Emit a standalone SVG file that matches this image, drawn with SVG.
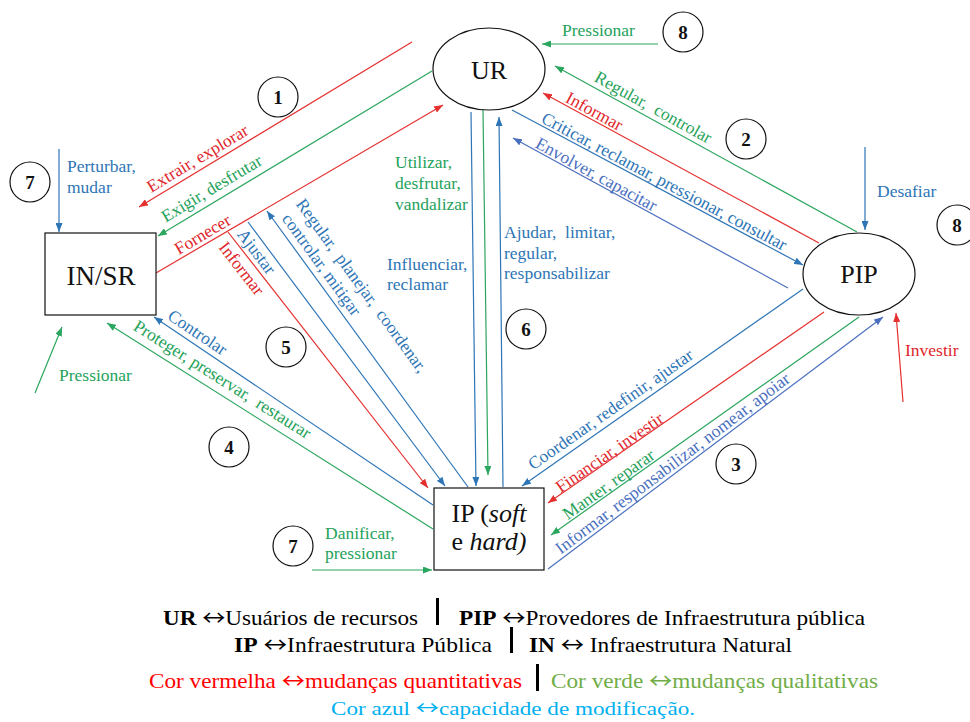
<svg xmlns="http://www.w3.org/2000/svg" width="970" height="722" viewBox="0 0 970 722" font-family="'Liberation Serif', 'DejaVu Serif', serif">
<style>
text{font-family:'Liberation Serif','DejaVu Serif',serif}
.lb{font-size:17.5px}
.r{fill:#E0262B}.g{fill:#25A25A}.b{fill:#2E75B6}.lb2{fill:#4A6FBF}
.node{fill:#fff;stroke:#111;stroke-width:1.2}
.nt{font-size:26px;fill:#111;text-anchor:middle}
.num{fill:#fff;stroke:#111;stroke-width:1.2}
.nn{font-size:19px;font-weight:bold;fill:#111;text-anchor:middle}
.cr{stroke:#E4302F;stroke-width:1.2;fill:none;marker-end:url(#mr)}
.cg{stroke:#2BA65E;stroke-width:1.2;fill:none;marker-end:url(#mg)}
.cb{stroke:#2E75B6;stroke-width:1.2;fill:none;marker-end:url(#mb)}
.cl{stroke:#4A6FBF;stroke-width:1.2;fill:none;marker-end:url(#ml)}
.leg{font-size:21px}
.ar{font-family:'Noto Sans CJK SC',sans-serif;font-weight:normal}
</style>
<defs>
<marker id="mr" markerUnits="userSpaceOnUse" markerWidth="9" markerHeight="7" refX="9" refY="3.5" orient="auto"><path d="M0,0 L9,3.5 L0,7 z" fill="#E4302F"/></marker>
<marker id="mg" markerUnits="userSpaceOnUse" markerWidth="9" markerHeight="7" refX="9" refY="3.5" orient="auto"><path d="M0,0 L9,3.5 L0,7 z" fill="#2BA65E"/></marker>
<marker id="mb" markerUnits="userSpaceOnUse" markerWidth="9" markerHeight="7" refX="9" refY="3.5" orient="auto"><path d="M0,0 L9,3.5 L0,7 z" fill="#2E75B6"/></marker>
<marker id="ml" markerUnits="userSpaceOnUse" markerWidth="9" markerHeight="7" refX="9" refY="3.5" orient="auto"><path d="M0,0 L9,3.5 L0,7 z" fill="#4A6FBF"/></marker>
</defs>
<rect width="970" height="722" fill="#fff"/>

<g id="connectors">
<line class="cr" x1="412" y1="42" x2="139" y2="207"/>
<line class="cg" x1="432" y1="71" x2="158" y2="236"/>
<line class="cr" x1="156" y1="273" x2="443" y2="105"/>
<line class="cb" x1="471" y1="112" x2="476" y2="486"/>
<line class="cg" x1="483" y1="110" x2="488" y2="475"/>
<line class="cb" x1="503" y1="487" x2="499" y2="117"/>
<line class="cg" x1="857" y1="232" x2="555" y2="66"/>
<line class="cr" x1="819" y1="243" x2="543" y2="93"/>
<line class="cb" x1="512" y1="110" x2="803" y2="265"/>
<line class="cl" x1="788" y1="288" x2="513" y2="138"/>
<line class="cg" x1="658" y1="44" x2="542" y2="44"/>
<line class="cb" x1="865" y1="147" x2="865" y2="230"/>
<line class="cr" x1="903" y1="402" x2="896" y2="313"/>
<line class="cb" x1="803" y1="289" x2="522" y2="486"/>
<line class="cr" x1="824" y1="312" x2="548" y2="503"/>
<line class="cg" x1="859" y1="317" x2="551" y2="535"/>
<line class="cl" x1="548" y1="569" x2="883" y2="317"/>
<line class="cb" x1="433" y1="505" x2="154" y2="317"/>
<line class="cg" x1="433" y1="529" x2="107" y2="323"/>
<line class="cr" x1="228" y1="232" x2="428" y2="488"/>
<line class="cb" x1="248" y1="222" x2="445" y2="486"/>
<line class="cb" x1="468" y1="487" x2="267" y2="211"/>
<line class="cb" x1="59" y1="149" x2="59" y2="232"/>
<line class="cg" x1="35" y1="393" x2="62" y2="327"/>
<line class="cg" x1="312" y1="570" x2="432" y2="570"/>
</g>

<g id="labels" class="lb">
<text class="r" text-anchor="middle" transform="translate(198,159) rotate(-31)" y="5">Extrair, explorar</text>
<text class="g" text-anchor="middle" transform="translate(212,189) rotate(-31)" y="5">Exigir, desfrutar</text>
<text class="r" text-anchor="middle" transform="translate(203,235) rotate(-30.5)" y="5">Fornecer</text>

<text class="g" x="395" y="168">Utilizar,</text>
<text class="g" x="395" y="189">desfrutar,</text>
<text class="g" x="395" y="210">vandalizar</text>
<text class="b" x="387" y="270">Influenciar,</text>
<text class="b" x="387" y="290">reclamar</text>
<text class="b" x="504" y="238" xml:space="preserve">Ajudar,  limitar,</text>
<text class="b" x="504" y="259">regular,</text>
<text class="b" x="504" y="279">responsabilizar</text>

<text class="g" text-anchor="middle" transform="translate(653,108) rotate(28.8)" y="5" xml:space="preserve">Regular,  controlar</text>
<text class="r" text-anchor="middle" transform="translate(594,112) rotate(28.5)" y="5">Informar</text>
<text class="b" text-anchor="middle" transform="translate(664,182) rotate(28)" y="5">Criticar, reclamar, pressionar, consultar</text>
<text class="lb2" text-anchor="middle" transform="translate(596,175) rotate(28.6)" y="5">Envolver, capacitar</text>

<text class="g" x="562" y="36">Pressionar</text>
<text class="b" x="877" y="197">Desafiar</text>
<text class="r" x="905" y="356">Investir</text>

<text class="b" text-anchor="middle" transform="translate(611,410) rotate(-35)" y="5">Coordenar, redefinir, ajustar</text>
<text class="r" text-anchor="middle" transform="translate(610,453) rotate(-34.7)" y="5">Financiar, investir</text>
<text class="g" text-anchor="middle" transform="translate(609,485) rotate(-35.3)" y="5">Manter, reparar</text>
<text class="lb2" text-anchor="middle" transform="translate(673,464) rotate(-37)" y="5">Informar, responsabilizar, nomear, apoiar</text>

<text class="b" text-anchor="middle" transform="translate(197,333) rotate(34)" y="5">Controlar</text>
<text class="g" text-anchor="middle" transform="translate(222,380) rotate(32.3)" y="5" xml:space="preserve">Proteger, preservar,  restaurar</text>

<text class="r" text-anchor="middle" transform="translate(241,269) rotate(52)" y="5">Informar</text>
<text class="b" text-anchor="middle" transform="translate(256,252) rotate(53)" y="5">Ajustar</text>
<text class="b" text-anchor="middle" transform="translate(361,286) rotate(54)" y="5" xml:space="preserve">Regular,  planejar,  coordenar,</text>
<text class="b" text-anchor="middle" transform="translate(321,265) rotate(54)" y="5">controlar, mitigar</text>

<text class="b" x="67" y="172">Perturbar,</text>
<text class="b" x="67" y="193">mudar</text>
<text class="g" x="59" y="381">Pressionar</text>
<text class="g" x="325" y="539">Danificar,</text>
<text class="g" x="325" y="559">pressionar</text>
</g>

<g id="UR"><ellipse class="node" cx="489" cy="69" rx="56" ry="41"/><text class="nt" x="489" y="79">UR</text></g>
<g id="PIP"><ellipse class="node" cx="859" cy="274" rx="56" ry="41"/><text class="nt" x="859" y="283">PIP</text></g>
<g id="INSR"><rect class="node" x="45" y="233" width="111" height="82"/><text class="nt" x="101" y="285" style="font-size:27px">IN/SR</text></g>
<g id="IP"><rect class="node" x="434" y="488" width="110" height="82"/><text class="nt" x="489" y="522">IP (<tspan font-style="italic">soft</tspan></text><text class="nt" x="489" y="550">e <tspan font-style="italic">hard)</tspan></text></g>

<g id="n1"><circle class="num" cx="278" cy="97" r="20"/><text class="nn" x="278" y="104">1</text></g>
<g id="n2"><circle class="num" cx="746" cy="139" r="20"/><text class="nn" x="746" y="146">2</text></g>
<g id="n3"><circle class="num" cx="736" cy="464" r="20"/><text class="nn" x="736" y="471">3</text></g>
<g id="n4"><circle class="num" cx="229" cy="447" r="20"/><text class="nn" x="229" y="454">4</text></g>
<g id="n5"><circle class="num" cx="286" cy="347" r="20"/><text class="nn" x="286" y="354">5</text></g>
<g id="n6"><circle class="num" cx="526" cy="329" r="20"/><text class="nn" x="526" y="336">6</text></g>
<g id="n7a"><circle class="num" cx="30" cy="182" r="20"/><text class="nn" x="30" y="189">7</text></g>
<g id="n7b"><circle class="num" cx="293" cy="546" r="20"/><text class="nn" x="293" y="553">7</text></g>
<g id="n8a"><circle class="num" cx="683" cy="32" r="20"/><text class="nn" x="683" y="39">8</text></g>
<g id="n8b"><circle class="num" cx="957" cy="225" r="20"/><text class="nn" x="957" y="232">8</text></g>

<g id="legend" class="leg">
<text x="163" y="625" textLength="255" lengthAdjust="spacingAndGlyphs" fill="#000"><tspan font-weight="bold">UR</tspan> <tspan class="ar">↔</tspan>Usuários de recursos</text>
<rect x="436" y="598" width="3" height="27" fill="#000"/>
<text x="459" y="625" textLength="406" lengthAdjust="spacingAndGlyphs" fill="#000"><tspan font-weight="bold">PIP</tspan> <tspan class="ar">↔</tspan>Provedores de Infraestrutura pública</text>
<text x="234" y="652" textLength="258" lengthAdjust="spacingAndGlyphs" fill="#000"><tspan font-weight="bold">IP</tspan> <tspan class="ar">↔</tspan>Infraestrutura Pública</text>
<rect x="510" y="627" width="3" height="26" fill="#000"/>
<text x="529" y="652" textLength="263" lengthAdjust="spacingAndGlyphs" fill="#000"><tspan font-weight="bold">IN</tspan> <tspan class="ar">↔</tspan> Infraestrutura Natural</text>
<text x="149" y="688" textLength="373" lengthAdjust="spacingAndGlyphs" fill="#FF0000">Cor vermelha <tspan class="ar">↔</tspan>mudanças quantitativas</text>
<rect x="536" y="664" width="3" height="27" fill="#000"/>
<text x="551" y="688" textLength="327" lengthAdjust="spacingAndGlyphs" fill="#70AD47">Cor verde <tspan class="ar">↔</tspan>mudanças qualitativas</text>
<text x="331" y="715" textLength="364" lengthAdjust="spacingAndGlyphs" fill="#00B0F0" style="font-size:19px">Cor azul <tspan class="ar">↔</tspan>capacidade de modificação.</text>
</g>
</svg>
